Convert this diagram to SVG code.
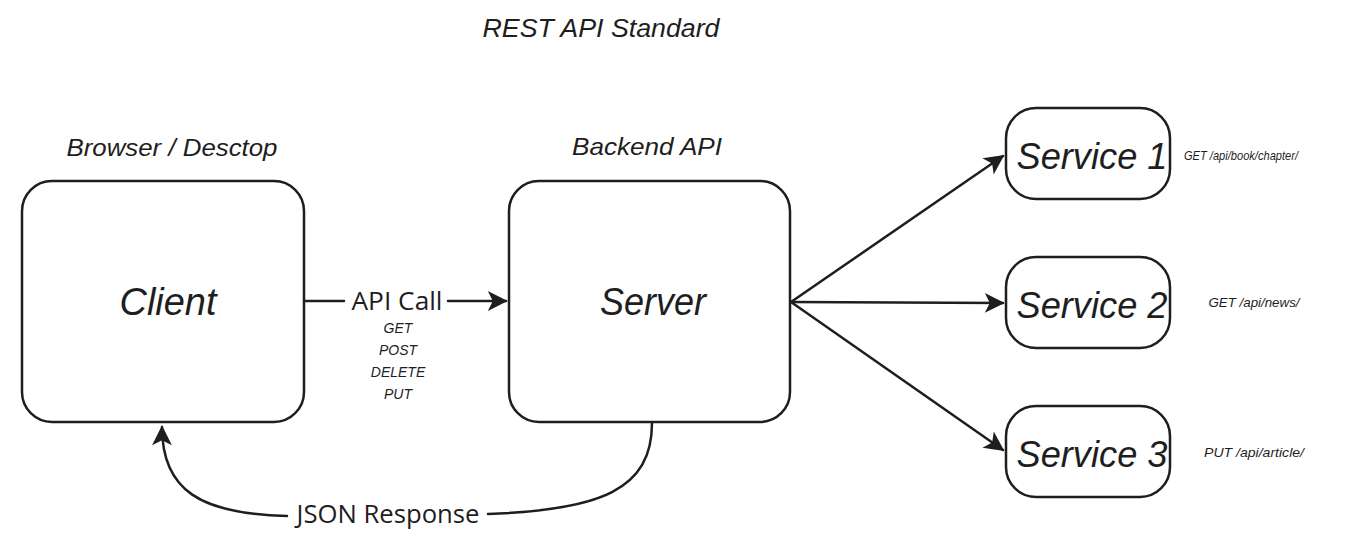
<svg xmlns="http://www.w3.org/2000/svg" width="1370" height="552" viewBox="0 0 1370 552">
<style>
.box{fill:#ffffff;stroke:#1e1e1e;stroke-width:2.5}
.hand{font-family:"Liberation Sans","DejaVu Sans",sans-serif;fill:#1e1e1e;text-anchor:middle;dominant-baseline:central}
.lbl{font-family:"Open Sans","Noto Sans",sans-serif;fill:#1e1e1e;text-anchor:middle;dominant-baseline:central;font-size:25px}
.con{fill:none;stroke:#1e1e1e;stroke-width:2.5;stroke-linecap:round}
</style>
<defs>
<marker id="arr" viewBox="0 0 12 12" refX="11" refY="6" markerWidth="9" markerHeight="9" markerUnits="userSpaceOnUse" orient="auto" overflow="visible">
<path d="M0,0 L12,6 L0,12 L3,6 Z" fill="#1e1e1e" transform="scale(2.2)" transform-origin="11 6"/>
</marker>
</defs>
<rect width="1370" height="552" fill="#ffffff"/>
<text class="hand" x="601" y="28" font-size="26" font-style="italic" textLength="237" lengthAdjust="spacingAndGlyphs">REST API Standard</text>
<g id="client">
<text class="hand" x="172" y="147" font-size="24" font-style="italic" textLength="211" lengthAdjust="spacingAndGlyphs">Browser / Desctop</text>
<rect class="box" x="22" y="181" width="282" height="241" rx="30"/>
<text class="hand" x="168" y="302" font-size="38" font-style="italic" textLength="97" lengthAdjust="spacingAndGlyphs">Client</text>
</g>
<g id="server">
<text class="hand" x="647" y="146" font-size="24" font-style="italic" textLength="150" lengthAdjust="spacingAndGlyphs">Backend API</text>
<rect class="box" x="509" y="181" width="281" height="241" rx="30"/>
<text class="hand" x="653" y="302" font-size="38" font-style="italic" textLength="106" lengthAdjust="spacingAndGlyphs">Server</text>
</g>
<g id="service1">
<rect class="box" x="1006" y="108" width="164" height="91" rx="30"/>
<text class="hand" x="1092" y="156" font-size="36" font-style="italic" textLength="151" lengthAdjust="spacingAndGlyphs">Service 1</text>
<text class="hand" x="1241" y="155" font-size="13" font-style="italic" textLength="114" lengthAdjust="spacingAndGlyphs">GET /api/book/chapter/</text>
</g>
<g id="service2">
<rect class="box" x="1006" y="257" width="164" height="91" rx="30"/>
<text class="hand" x="1092" y="305" font-size="36" font-style="italic" textLength="151" lengthAdjust="spacingAndGlyphs">Service 2</text>
<text class="hand" x="1254" y="302" font-size="13" font-style="italic" textLength="91" lengthAdjust="spacingAndGlyphs">GET /api/news/</text>
</g>
<g id="service3">
<rect class="box" x="1006" y="406" width="164" height="91" rx="30"/>
<text class="hand" x="1092" y="454" font-size="36" font-style="italic" textLength="151" lengthAdjust="spacingAndGlyphs">Service 3</text>
<text class="hand" x="1254" y="452" font-size="13" font-style="italic" textLength="100" lengthAdjust="spacingAndGlyphs">PUT /api/article/</text>
</g>
<g id="connectors">
<path class="con" d="M304,301 L344,301"/>
<path class="con" d="M448,301 L506,301" marker-end="url(#arr)"/>
<text class="lbl" x="397" y="300" textLength="91" lengthAdjust="spacingAndGlyphs">API Call</text>
<text class="hand" x="398" y="328" font-size="14" font-style="italic">GET</text>
<text class="hand" x="398" y="350" font-size="14" font-style="italic">POST</text>
<text class="hand" x="398" y="372" font-size="14" font-style="italic">DELETE</text>
<text class="hand" x="398" y="394" font-size="14" font-style="italic">PUT</text>
<path class="con" d="M652,423 C652,490 600,510 488,514"/>
<path class="con" d="M287,516 C200,514 162,490 162,427" marker-end="url(#arr)"/>
<text class="lbl" x="388" y="513" textLength="183" lengthAdjust="spacingAndGlyphs">JSON Response</text>
<path class="con" d="M791,302 L1003,156" marker-end="url(#arr)"/>
<path class="con" d="M791,302 L1003,303" marker-end="url(#arr)"/>
<path class="con" d="M791,302 L1003,450" marker-end="url(#arr)"/>
</g>
</svg>
